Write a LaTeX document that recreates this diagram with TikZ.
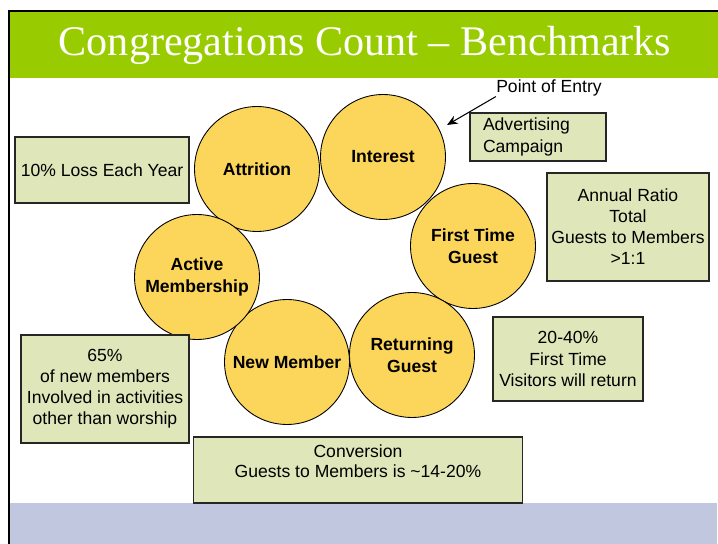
\documentclass[tikz,border=0pt]{standalone}
\usepackage{fontspec}
\setmainfont{Liberation Sans}
\newfontfamily\titlefont{Liberation Serif}
\usetikzlibrary{arrows.meta}
\definecolor{BandClr}{RGB}{153,204,0}
\definecolor{FootClr}{RGB}{192,199,222}
\definecolor{StageClr}{RGB}{252,214,90}
\definecolor{NoteClr}{RGB}{222,230,186}

\tikzset{
  stage/.style={circle,draw=black,line width=0.5pt,fill=StageClr,minimum size=2.5cm,
    inner sep=0pt,align=center,font=\fontsize{10}{12.5}\selectfont\bfseries},
  note/.style={draw=black!85,line width=0.6pt,fill=NoteClr,inner sep=0pt,align=center,
    font=\fontsize{10}{12}\selectfont},
}

\begin{document}
\begin{tikzpicture}[x=0.02cm,y=-0.02cm]
\useasboundingbox (0,0) rectangle (718,544);

% frame, title band and footer
\fill[black] (8,10) rectangle (718,12);
\fill[black] (8,10) rectangle (10,544);
\fill[BandClr] (10,12) rectangle (718,78);
\fill[FootClr] (10,503) rectangle (717,544);
\node[text=white,font=\titlefont\fontsize{24}{29}\selectfont] (title) at (365,45) {Congregations Count – Benchmarks};

% the cycle
\node[stage] (attrition) at (257,169) {Attrition};
\node[stage] (interest) at (383,157) {Interest};
\node[stage] (first) at (473,246) {First Time\\Guest};
\node[stage] (returning) at (412,355) {Returning\\Guest};
\node[stage] (newmember) at (287,362) {New Member};
\node[stage] (active) at (197,277) {Active\\Membership};

% notes
\node[note,minimum width=3.48cm,minimum height=1.32cm] (loss) at (102,170) {10\% Loss Each Year};
\node[note,minimum width=2.72cm,minimum height=0.96cm,text width=2.2cm,align=left,inner xsep=0.26cm] (advert) at (538,137) {Advertising\\Campaign};
\node[note,minimum width=3.24cm,minimum height=2.16cm] (ratio) at (628,227) {Annual Ratio\\Total\\Guests to Members\\>1:1};
\node[note,minimum width=3cm,minimum height=1.68cm] (return) at (568,359) {20-40\%\\First Time\\Visitors will return};
\node[note,minimum width=3.36cm,minimum height=2.16cm] (involve) at (105,389) {65\%\\of new members\\Involved in activities\\other than worship};
\node[note,minimum width=6.58cm,minimum height=1.32cm,
  label={[below=1pt,align=center,font=\fontsize{10}{11.5}\selectfont]north:{Conversion\\Guests to Members is \textasciitilde14-20\%}}] (conv) at (358,470) {};

% entry point
\node[font=\fontsize{10}{12}\selectfont,inner sep=0pt] (entry) at (549,88) {Point of Entry};
\coordinate (tip) at (447,125);
\draw[-{Stealth[length=6pt,width=5pt]},line width=0.6pt] (entry.south west) -- (tip);
\end{tikzpicture}
\end{document}
